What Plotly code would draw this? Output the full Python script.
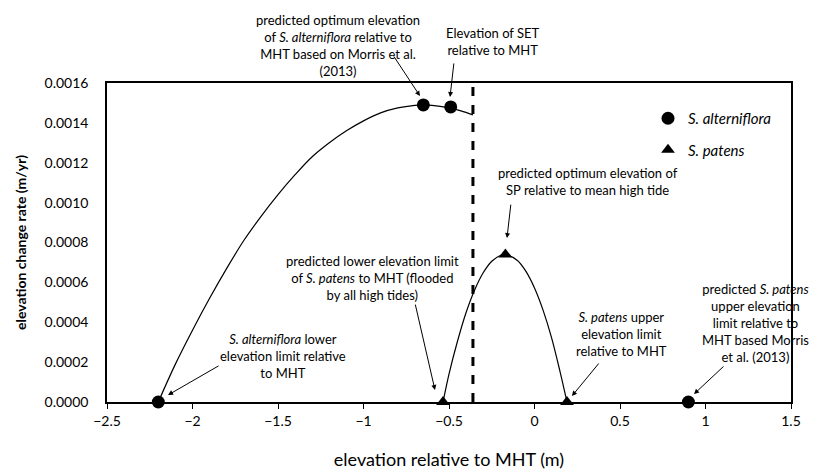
import plotly.graph_objects as go

# ---- data ----
alt_curve_x = [-2.2, -2.1, -2.0, -1.9, -1.8, -1.7, -1.6, -1.5, -1.4, -1.3, -1.2, -1.1, -1.0, -0.9, -0.8, -0.7, -0.65, -0.6, -0.5, -0.43, -0.36]
alt_curve_y = [0.0, 0.000190, 0.000360, 0.000520, 0.000670, 0.000810, 0.000930, 0.001040, 0.001140, 0.001230, 0.001300, 0.001360, 0.001410, 0.001450, 0.001475, 0.001488, 0.001490, 0.001488, 0.001475, 0.001460, 0.001440]

pat_curve_x = [-0.535, -0.5, -0.45, -0.4, -0.35, -0.3, -0.25, -0.2, -0.17, -0.1, -0.05, 0.0, 0.05, 0.1, 0.15, 0.19]
pat_curve_y = [0.0, 0.000140, 0.000306, 0.000449, 0.000562, 0.000648, 0.000706, 0.000735, 0.000740, 0.000710, 0.000655, 0.000572, 0.000461, 0.000322, 0.000150, 0.0]

alt_points_x = [-2.2, -0.65, -0.49, 0.9]
alt_points_y = [0.0, 0.00149, 0.00148, 0.0]

pat_points_x = [-0.535, -0.17, 0.19]
pat_points_y = [0.0, 0.00074, 0.0]

set_line_x = -0.36
y_range = [0, 0.0016]
x_range = [-2.5, 1.5]

FONT = "Lato"

fig = go.Figure()
fig.add_trace(go.Scatter(x=alt_curve_x, y=alt_curve_y, mode="lines",
                         line=dict(color="black", width=1.2, shape="spline"),
                         showlegend=False, hoverinfo="skip"))
fig.add_trace(go.Scatter(x=pat_curve_x, y=pat_curve_y, mode="lines",
                         line=dict(color="black", width=1.2, shape="spline"),
                         showlegend=False, hoverinfo="skip"))
fig.add_trace(go.Scatter(x=alt_points_x, y=alt_points_y, mode="markers",
                         name="<i>S. alterniflora</i>", cliponaxis=False,
                         marker=dict(symbol="circle", size=13, color="black"),
                         legendgroup="a"))
fig.add_trace(go.Scatter(x=pat_points_x, y=pat_points_y, mode="markers",
                         name="<i>S. patens</i>", cliponaxis=False,
                         marker=dict(symbol="triangle-up", size=12, color="black"),
                         legendgroup="b"))

fig.add_shape(type="line", xref="x", yref="y", x0=set_line_x, x1=set_line_x,
              y0=y_range[0], y1=y_range[1],
              line=dict(color="black", width=3, dash="dash"))

L, R, T, B = 107, 23, 83, 70
W, H = 814, 472
pw, ph = W - L - R, H - T - B


def px(xp):
    return (xp - L) / pw


def py(yp):
    return (H - B - yp) / ph


texts = [
    ("predicted optimum elevation<br>of <i>S. alterniflora</i> relative to<br>MHT based on Morris et al.<br>(2013)", 338, 45),
    ("Elevation of SET<br>relative to MHT", 493, 41.5),
    ("predicted optimum elevation of<br>SP relative to mean high tide", 588, 181.5),
    ("predicted lower elevation limit<br>of <i>S. patens</i> to MHT (flooded<br>by all high tides)", 372, 278),
    ("<i>S. alterniflora</i> lower<br>elevation limit relative<br>to MHT", 283, 356),
    ("<i>S. patens</i> upper<br>elevation limit<br>relative to MHT", 621, 334),
    ("predicted <i>S. patens</i><br>upper elevation<br>limit relative to<br>MHT based Morris<br>et al. (2013)", 755, 323),
]
for t, xx, yy in texts:
    fig.add_annotation(text=t, xref="paper", yref="paper", x=px(xx), y=py(yy),
                       xanchor="center", yanchor="middle", showarrow=False,
                       font=dict(family=FONT, size=13, color="black"), align="center")

# arrows: head (data coords), tail offset (pixels)
arrows = [
    (-0.67, 0.001535, -27, -41),
    (-0.494, 0.00153, 4, -35),
    (-0.161, 0.000822, 4, -35),
    (-0.582, 0.00006, -20, -87),
    (-2.143, 0.000035, 52, -30),
    (0.219, 0.00003, 28, -34),
    (0.933, 0.00004, 31, -29),
]
for hx, hy, ax, ay in arrows:
    fig.add_annotation(x=hx, y=hy, xref="x", yref="y", ax=ax, ay=ay, text="",
                       showarrow=True, arrowhead=2, arrowsize=1, arrowwidth=1,
                       arrowcolor="black")

fig.update_layout(
    width=W, height=H,
    margin=dict(l=L, r=R, t=T, b=B),
    paper_bgcolor="white", plot_bgcolor="white",
    font=dict(family=FONT, color="black"),
    legend=dict(x=px(648), y=py(102), xanchor="left", yanchor="top",
                font=dict(family=FONT, size=15, color="black"),
                bgcolor="rgba(0,0,0,0)", tracegroupgap=9, traceorder="grouped"),
)
fig.update_xaxes(range=x_range, dtick=0.5, showgrid=False, zeroline=False,
                 showline=True, linecolor="black", linewidth=1.5, mirror=True,
                 ticks="outside", ticklen=5, tickcolor="black", automargin=False,
                 tickfont=dict(family=FONT, size=14, color="black"),
                 title=dict(text="elevation relative to MHT (m)",
                            font=dict(family=FONT, size=18, color="black"), standoff=26))
fig.update_yaxes(range=y_range, dtick=0.0002, tickformat=".4f", showgrid=False,
                 zeroline=False, showline=True, linecolor="black", linewidth=1.5,
                 mirror=True, ticks="", ticklabelstandoff=14, automargin=False,
                 tickfont=dict(family=FONT, size=14, color="black"),
                 title=dict(text="<b>elevation change rate (m/yr)</b>",
                            font=dict(family=FONT, size=14, color="black")))

fig.write_html("out.html", config={"displayModeBar": False},
               post_script="document.body.style.margin='0';document.body.style.overflow='hidden';")
